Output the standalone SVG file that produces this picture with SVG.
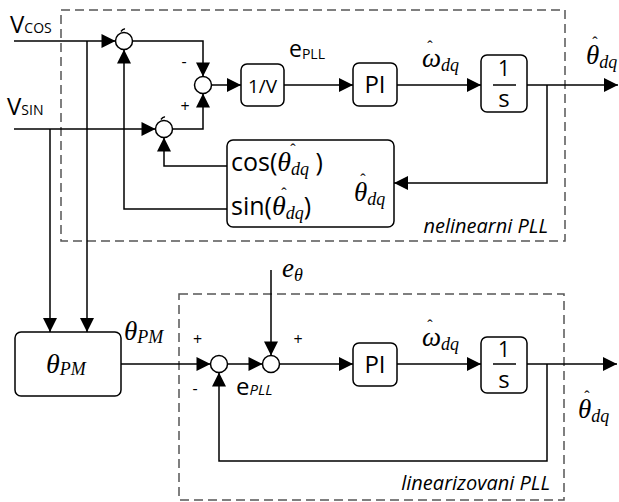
<svg xmlns="http://www.w3.org/2000/svg" width="619" height="502" viewBox="0 0 619 502">
<defs>
<marker id="arr" markerUnits="userSpaceOnUse" markerWidth="16" markerHeight="16" viewBox="0 0 16 16" refX="15" refY="8" orient="auto">
<path d="M1,1 L15,8 L1,15 Z" fill="#000"/>
</marker>
</defs>
<style>
.ln{fill:none;stroke:#000;stroke-width:1.5}
.blk{fill:#fff;stroke:#000;stroke-width:1.5}
.sum{fill:#fff;stroke:#000;stroke-width:1.5}
.dash{fill:none;stroke:#555;stroke-width:1.5;stroke-dasharray:9 5}
.sans{font-family:"Open Sans","DejaVu Sans",sans-serif;fill:#000}
.math{font-family:"Liberation Serif","Times New Roman",serif;font-style:italic;fill:#000}
.hat{font-family:"Liberation Serif","Times New Roman",serif;font-size:16px;fill:#000;text-anchor:middle}
.sym{font-family:"Open Sans","DejaVu Sans",sans-serif;font-size:16px;fill:#000;text-anchor:middle}
</style>
<rect class="dash" x="61" y="10" width="504" height="231"/>
<rect class="dash" x="179" y="294" width="385" height="206"/>
<g id="connectors">
<path class="ln" d="M14,41 H115.5" marker-end="url(#arr)"/>
<path class="ln" d="M87,41 V332" marker-end="url(#arr)"/>
<path class="ln" d="M14,129 H155.5" marker-end="url(#arr)"/>
<path class="ln" d="M50,129 V332" marker-end="url(#arr)"/>
<path class="ln" d="M132.5,41 H203 V76.5" marker-end="url(#arr)"/>
<path class="ln" d="M172.5,129 H203 V93.5" marker-end="url(#arr)"/>
<path class="ln" d="M211.5,85 H241" marker-end="url(#arr)"/>
<path class="ln" d="M284,85 H353" marker-end="url(#arr)"/>
<path class="ln" d="M397,85 H481" marker-end="url(#arr)"/>
<path class="ln" d="M527,85 H618" marker-end="url(#arr)"/>
<path class="ln" d="M547,85 V183 H394" marker-end="url(#arr)"/>
<path class="ln" d="M227,166 H164 V137.5" marker-end="url(#arr)"/>
<path class="ln" d="M227,209 H124 V49.5" marker-end="url(#arr)"/>
<path class="ln" d="M121,364 H210.5" marker-end="url(#arr)"/>
<path class="ln" d="M227.5,364 H262.5" marker-end="url(#arr)"/>
<path class="ln" d="M271,270 V355.5" marker-end="url(#arr)"/>
<path class="ln" d="M279.5,364 H353" marker-end="url(#arr)"/>
<path class="ln" d="M397,364 H481" marker-end="url(#arr)"/>
<path class="ln" d="M527,364 H617" marker-end="url(#arr)"/>
<path class="ln" d="M547,364 V461 H219 V372.5" marker-end="url(#arr)"/>
</g>
<g id="sum1"><circle class="sum" cx="124" cy="41" r="8.5"/><path class="ln" d="M121,31.5 q2,-3 4,-2.5" stroke-width="1"/></g>
<g id="sum2"><circle class="sum" cx="164" cy="129" r="8.5"/><path class="ln" d="M161,119.5 q2,-3 4,-2.5" stroke-width="1"/></g>
<g id="sum3"><circle class="sum" cx="203" cy="85" r="8.5"/></g>
<g id="sum4"><circle class="sum" cx="219" cy="364" r="8.5"/></g>
<g id="sum5"><circle class="sum" cx="271" cy="364" r="8.5"/></g>
<g id="gain"><rect class="blk" x="241" y="64" width="43" height="42" rx="6"/><text class="sans" x="262.5" y="93" font-size="19" text-anchor="middle">1/V</text></g>
<g id="pi1"><rect class="blk" x="353" y="63" width="44" height="43" rx="6"/><text class="sans" x="375" y="93" font-size="24" text-anchor="middle">PI</text></g>
<g id="int1"><rect class="blk" x="481" y="55" width="46" height="57" rx="6"/><text class="sans" x="504" y="76" font-size="21" text-anchor="middle">1</text><line class="ln" x1="493" y1="85" x2="516" y2="85"/><text class="sans" x="504" y="107" font-size="24" text-anchor="middle">s</text></g>
<g id="trig"><rect class="blk" x="227" y="140" width="167" height="87" rx="6"/>
<text class="sans" x="231" y="171" font-size="25">cos(<tspan class="math" font-size="28">θ</tspan><tspan class="math" font-size="18" dy="4">dq</tspan><tspan dy="-4"> )</tspan></text>
<text class="hat" x="293" y="155">ˆ</text>
<text class="sans" x="231" y="215" font-size="25">sin(<tspan class="math" font-size="28">θ</tspan><tspan class="math" font-size="18" dy="4">dq</tspan><tspan dy="-4">)</tspan></text>
<text class="hat" x="284" y="199">ˆ</text>
<text class="math" x="354" y="201" font-size="27">θ<tspan font-size="18" dy="4">dq</tspan></text>
<text class="hat" x="363" y="185">ˆ</text>
</g>
<g id="pm"><rect class="blk" x="15" y="332" width="106" height="64" rx="6"/><text class="math" x="46" y="373" font-size="28">θ<tspan font-size="18" dy="2">PM</tspan></text></g>
<g id="pi2"><rect class="blk" x="353" y="343" width="44" height="43" rx="6"/><text class="sans" x="375" y="373" font-size="24" text-anchor="middle">PI</text></g>
<g id="int2"><rect class="blk" x="481" y="337" width="46" height="56" rx="6"/><text class="sans" x="504" y="357" font-size="21" text-anchor="middle">1</text><line class="ln" x1="493" y1="364" x2="516" y2="364"/><text class="sans" x="504" y="388" font-size="24" text-anchor="middle">s</text></g>
<g id="labels">
<text class="sans" x="10" y="33" font-size="24">V<tspan font-size="14">COS</tspan></text>
<text class="sans" x="7" y="115" font-size="24">V<tspan font-size="14">SIN</tspan></text>
<text class="sym" x="184" y="67">-</text>
<text class="sym" x="185" y="112">+</text>
<text class="sans" x="289" y="57" font-size="23">e<tspan font-size="14" dy="2">PLL</tspan></text>
<text class="math" x="422" y="67" font-size="27">ω<tspan font-size="18" dy="4">dq</tspan></text>
<text class="hat" x="430" y="52">ˆ</text>
<text class="math" x="586" y="64" font-size="27">θ<tspan font-size="18" dy="4">dq</tspan></text>
<text class="hat" x="595" y="48">ˆ</text>
<text class="sans" x="548" y="233" font-size="20" font-style="italic" text-anchor="end">nelinearni PLL</text>
<text class="math" x="124" y="340" font-size="27">θ<tspan font-size="18" dy="3">PM</tspan></text>
<text class="sym" x="197.5" y="345">+</text>
<text class="sym" x="195" y="394">-</text>
<text class="sans" x="236" y="395" font-size="24">e<tspan font-size="15" font-style="italic">PLL</tspan></text>
<text class="math" x="282" y="277" font-size="27">e<tspan font-size="18" dy="4">θ</tspan></text>
<text class="sym" x="298" y="345">+</text>
<text class="math" x="422" y="346" font-size="27">ω<tspan font-size="18" dy="4">dq</tspan></text>
<text class="hat" x="430" y="331">ˆ</text>
<text class="math" x="578" y="418" font-size="27">θ<tspan font-size="18" dy="4">dq</tspan></text>
<text class="hat" x="587" y="402">ˆ</text>
<text class="sans" x="550" y="490" font-size="20" font-style="italic" text-anchor="end">linearizovani PLL</text>
</g>
</svg>
